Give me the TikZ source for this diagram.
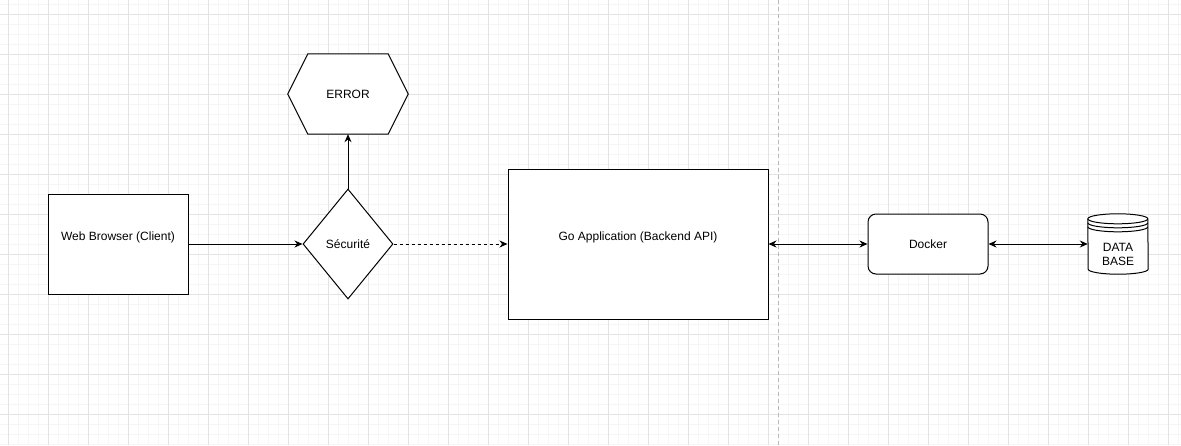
\documentclass[tikz,border=0pt]{standalone}
\usepackage{fontspec}
\setmainfont{Liberation Sans}
\usetikzlibrary{arrows.meta, shapes.geometric, positioning}

\begin{document}
\begin{tikzpicture}[
    x=1pt, y=-1pt,
    box/.style={
        rectangle, draw, line width=1pt, fill=white,
        minimum width=140pt, minimum height=100pt, inner sep=0pt
    },
    txt/.style={
        inner sep=0pt, align=center, font=\fontsize{12}{14}\selectfont
    },
    gridminor/.style={draw=gray!7, line width=0.6pt},
    gridmajor/.style={draw=gray!22, line width=0.8pt},
    link/.style={line width=1pt, -{Stealth[length=8pt, width=7pt]}},
    both/.style={line width=1pt, {Stealth[length=8pt, width=7pt]}-{Stealth[length=8pt, width=7pt]}}
]

\useasboundingbox (0,0) rectangle (1181,445);
\fill[white] (0,0) rectangle (1181,445);

% background grid
\foreach \gx in {8,18,...,1178} \draw[gridminor] (\gx,0) -- (\gx,445);
\foreach \gy in {4,14,...,444} \draw[gridminor] (0,\gy) -- (1181,\gy);
\foreach \gx in {8,48,...,1168} \draw[gridmajor] (\gx,0) -- (\gx,445);
\foreach \gy in {14,54,...,414} \draw[gridmajor] (0,\gy) -- (1181,\gy);

% separator
\draw[gray!55, line width=0.8pt, dash pattern=on 4pt off 3pt] (778,0) -- (778,445);

% client side
\node[box] (web) at (118,244) {};
\node[txt] (webtxt) at (118,237) {Web Browser (Client)};

\node[diamond, draw, line width=1pt, fill=white, minimum width=90pt, minimum height=110pt,
      inner sep=0pt, font=\fontsize{12}{14}\selectfont] (sec) at (348,244) {Sécurité};

\node[rectangle, minimum width=120pt, minimum height=80pt, inner sep=0pt] (err) at (348,94) {};
\draw[line width=1pt, fill=white] (err.west) -- ([xshift=20pt]err.north west) -- ([xshift=-20pt]err.north east)
    -- (err.east) -- ([xshift=-20pt]err.south east) -- ([xshift=20pt]err.south west) -- cycle;
\node[txt] (errtxt) at (348,94) {ERROR};

% backend
\node[box, minimum width=260pt, minimum height=150pt] (app) at (638,244) {};
\node[txt] (apptxt) at (638,237) {Go Application (Backend API)};

\node[box, minimum width=120pt, minimum height=60pt, rounded corners=8pt,
      font=\fontsize{12}{14}\selectfont] (dock) at (928,244) {Docker};

% database
\node[rectangle, minimum width=60pt, minimum height=60pt, inner sep=0pt] (db) at (1118,244) {};
\draw[line width=1pt, fill=white] ([yshift=-5pt]db.north west) arc[start angle=180, end angle=0, x radius=30pt, y radius=5pt]
    -- ([yshift=5pt]db.south east) arc[start angle=0, end angle=-180, x radius=30pt, y radius=5pt] -- cycle;
\draw[line width=1pt] ([yshift=-5pt]db.north west) arc[start angle=180, end angle=360, x radius=30pt, y radius=5pt];
\draw[line width=1pt] ([yshift=-9pt]db.north west) arc[start angle=180, end angle=360, x radius=30pt, y radius=5pt];
\draw[line width=1pt] ([yshift=-13pt]db.north west) arc[start angle=180, end angle=360, x radius=30pt, y radius=5pt];
\node[txt] (dbtxt) at (1118,254) {DATA\\BASE};

% connectors
\draw[link] (web) -- (sec);
\draw[link] (sec) -- (err);
\draw[link, dash pattern=on 3pt off 3pt] (sec) -- (app);
\draw[both] (app) -- (dock);
\draw[both] (dock) -- (db);

\end{tikzpicture}
\end{document}
